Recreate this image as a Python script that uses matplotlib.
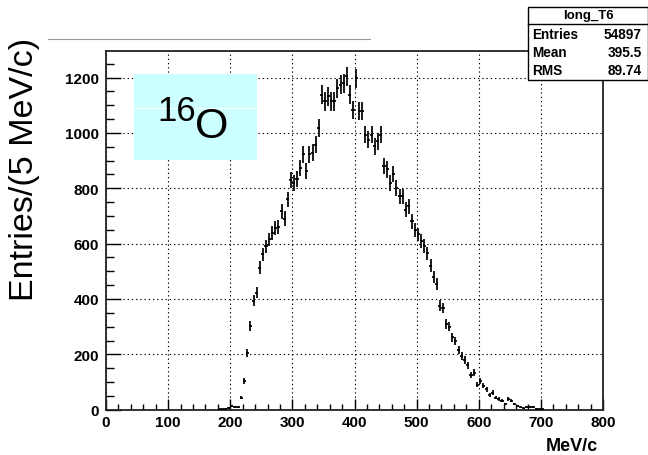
import matplotlib
matplotlib.use("Agg")
import matplotlib.pyplot as plt
import matplotlib.patches as patches
from matplotlib.lines import Line2D
from matplotlib.ticker import MultipleLocator
import numpy as np

plt.rcParams['font.family'] = ['Liberation Sans', 'DejaVu Sans']

# long_T6 : longitudinal momentum, 5 MeV/c bins (bin centres)
p_centre = [182.5, 187.5, 192.5, 197.5, 202.5, 207.5, 212.5, 217.5, 222.5, 227.5,
            232.5, 237.5, 242.5, 247.5, 252.5, 257.5, 262.5, 267.5, 272.5, 277.5,
            282.5, 287.5, 292.5, 297.5, 302.5, 307.5, 312.5, 317.5, 322.5, 327.5,
            332.5, 337.5, 342.5, 347.5, 352.5, 357.5, 362.5, 367.5, 372.5, 377.5,
            382.5, 387.5, 392.5, 397.5, 402.5, 407.5, 412.5, 417.5, 422.5, 427.5,
            432.5, 437.5, 442.5, 447.5, 452.5, 457.5, 462.5, 467.5, 472.5, 477.5,
            482.5, 487.5, 492.5, 497.5, 502.5, 507.5, 512.5, 517.5, 522.5, 527.5,
            532.5, 537.5, 542.5, 547.5, 552.5, 557.5, 562.5, 567.5, 572.5, 577.5,
            582.5, 587.5, 592.5, 597.5, 602.5, 607.5, 612.5, 617.5, 622.5, 627.5,
            632.5, 637.5, 642.5, 647.5, 652.5, 657.5, 662.5, 667.5, 672.5, 677.5,
            682.5, 687.5, 692.5, 697.5, 702.5]
entries = [1, 2, 3, 6, 14, 9, 10, 44, 104, 206,
           302, 393, 423, 513, 561, 590, 615, 640, 655, 660,
           717, 690, 760, 831, 820, 835, 874, 922, 862, 922,
           928, 958, 1018, 1138, 1114, 1132, 1114, 1114, 1162, 1174,
           1180, 1204, 1138, 1084, 1198, 1078, 1078, 994, 976, 994,
           952, 970, 994, 880, 868, 820, 850, 801, 771, 771,
           723, 735, 680, 650, 633, 609, 591, 565, 520, 480,
           455, 376, 368, 310, 300, 262, 248, 215, 194, 180,
           160, 125, 134, 90, 104, 86, 74, 52, 62, 44,
           38, 32, 20, 38, 32, 20, 14, 8, 5, 10,
           9, 10, 3, 2, 1]
bin_width = 5.0

hist_name = "long_T6"
stat_names = ["Entries", "Mean", "RMS"]
stat_values = ["54897", "395.5", "89.74"]

W, H = 648, 456
fig = plt.figure(figsize=(W / 100, H / 100), dpi=100)
fig.patch.set_facecolor('white')

def fx(px):
    return px / W

def fy(py):
    return 1 - py / H

ax = fig.add_axes([fx(106), fy(410.7), (603 - 106) / W, (410.7 - 51.7) / H])

y = np.array(entries, dtype=float)
ax.errorbar(p_centre, y, yerr=np.sqrt(y), xerr=bin_width / 2, fmt='none',
            ecolor='black', elinewidth=1.25, capsize=0, zorder=3)

ax.set_xlim(0, 800)
ax.set_ylim(0, 1297)
ax.xaxis.set_major_locator(MultipleLocator(100))
ax.xaxis.set_minor_locator(MultipleLocator(20))
ax.yaxis.set_major_locator(MultipleLocator(200))
ax.yaxis.set_minor_locator(MultipleLocator(50))

ax.grid(True, which='major', color='black', linewidth=0.8,
        linestyle=(0, (1.2, 2.6)), zorder=1)
ax.tick_params(axis='both', which='both', direction='in', top=False, right=False,
               width=1.0, color='black')
ax.tick_params(axis='x', which='major', length=7.8, pad=3.5, labelsize=11)
ax.tick_params(axis='x', which='minor', length=4.0)
ax.tick_params(axis='y', which='major', length=10.7, pad=5, labelsize=11)
ax.tick_params(axis='y', which='minor', length=5.4)
for lab in ax.get_xticklabels() + ax.get_yticklabels():
    lab.set_fontweight('bold')
for sp in ax.spines.values():
    sp.set_linewidth(1.3)
    sp.set_color('#222222')

# axis titles
fig.text(fx(25), fy(38), "Entries/(5 MeV/c)", rotation=90, ha='center', va='top',
         fontsize=24.5)
fig.text(fx(598), fy(447), "MeV/c", ha='right', va='center', fontsize=13,
         fontweight='bold')

# nucleus label
fig.add_artist(patches.Rectangle((fx(134), fy(161)), (257 - 134) / W, (161 - 75) / H,
                                 transform=fig.transFigure, facecolor='#ccffff',
                                 edgecolor='none', zorder=4))
fig.add_artist(Line2D([fx(134), fx(257)], [fy(109), fy(109)], transform=fig.transFigure,
                      color='white', linewidth=0.8, zorder=4.5))
fig.text(fx(157), fy(121), "16", ha='left', va='baseline', fontsize=25, zorder=5)
fig.text(fx(195), fy(137.5), "O", ha='left', va='baseline', fontsize=31, zorder=5)

# leftover title line
fig.add_artist(Line2D([fx(48), fx(370)], [fy(40), fy(40)], transform=fig.transFigure,
                      color='#999999', linewidth=0.8))

# statistics box
fig.add_artist(patches.Rectangle((fx(527.7), fy(81)), (647.5 - 527.7) / W, (81 - 8) / H,
                                 transform=fig.transFigure, facecolor='white',
                                 edgecolor='black', linewidth=1.0, zorder=6))
fig.add_artist(Line2D([fx(527.7), fx(647.5)], [fy(25), fy(25)], transform=fig.transFigure,
                      color='black', linewidth=1.0, zorder=7))
fig.text(fx(588), fy(16.5), hist_name, ha='center', va='center', fontsize=9.5,
         fontweight='bold', zorder=8)
for i, (name, val) in enumerate(zip(stat_names, stat_values)):
    yy = fy(35 + 18 * i)
    fig.text(fx(532.5), yy, name, ha='left', va='center', fontsize=9.8,
             fontweight='bold', zorder=8)
    fig.text(fx(642), yy, val, ha='right', va='center', fontsize=9.8,
             fontweight='bold', zorder=8)

fig.savefig("out.png", dpi=100)
